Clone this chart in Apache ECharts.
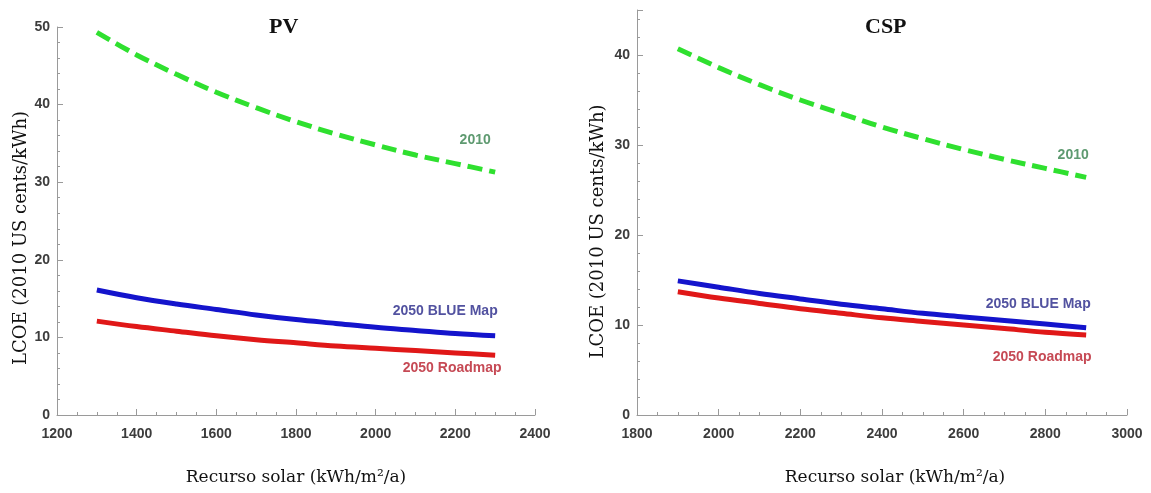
<!DOCTYPE html>
<html>
<head>
<meta charset="utf-8">
<script src="https://cdn.jsdelivr.net/npm/echarts@6/dist/echarts.min.js"></script>
<style>
html,body{margin:0;padding:0;background:#fff;}
#c{width:1151px;height:493px;}
</style>
</head>
<body>
<div id="c"></div>
<script>
// ---- data ----
const pvX = [1300, 1400, 1500, 1600, 1700, 1800, 1900, 2000, 2100, 2200, 2300];
const pv2010 = [49.3, 46.4, 43.9, 41.6, 39.6, 37.8, 36.2, 34.8, 33.5, 32.4, 31.3];
const pvBlue = [16.1, 15.1, 14.3, 13.6, 12.9, 12.3, 11.8, 11.3, 10.9, 10.5, 10.2];
const pvRoad = [12.1, 11.4, 10.8, 10.2, 9.7, 9.3, 8.9, 8.6, 8.3, 8.0, 7.7];

const cspX = [1900, 2000, 2100, 2200, 2300, 2400, 2500, 2600, 2700, 2800, 2900];
const csp2010 = [40.7, 38.6, 36.7, 35.0, 33.5, 32.0, 30.7, 29.5, 28.4, 27.4, 26.4];
const cspBlue = [14.9, 14.2, 13.5, 12.9, 12.3, 11.8, 11.3, 10.9, 10.5, 10.1, 9.7];
const cspRoad = [13.7, 13.0, 12.4, 11.8, 11.3, 10.8, 10.4, 10.0, 9.6, 9.2, 8.9];

const panelTitles = ['PV', 'CSP'];
const seriesNames = ['2010', '2050 BLUE Map', '2050 Roadmap'];
const xName = 'Recurso solar (kWh/m\u00B2/a)';
const yName = 'LCOE (2010 US cents/kWh)';
const pvXRange = [1200, 2400];
const cspXRange = [1800, 3000];
const pvYRange = [0, 50];
const cspYRange = [0, 45];

// ---- helpers ----
const pair = (xs, ys) => xs.map((x, i) => [x, ys[i]]);
const axisGray = '#9a9a9a';
const tickFont = {fontFamily: 'Liberation Sans', fontWeight: 'bold', fontSize: 14, color: '#3c3c3c'};

function xAxis(idx, range, namePad) {
  return {
    type: 'value', gridIndex: idx, min: range[0], max: range[1], interval: 200,
    axisLine: {show: true, onZero: false, lineStyle: {color: axisGray, width: 1}},
    axisTick: {show: true, inside: true, length: 6, lineStyle: {color: axisGray}},
    minorTick: {show: true, splitNumber: 4, length: 3, lineStyle: {color: axisGray}},
    splitLine: {show: false},
    axisLabel: Object.assign({margin: 12, formatter: v => String(v)}, tickFont),
    name: xName, nameLocation: 'middle', nameGap: 54,
    nameTextStyle: {fontFamily: 'DejaVu Serif', fontSize: 17, color: '#111', padding: namePad}
  };
}
function yAxis(idx, range, gap, namePad) {
  return {
    type: 'value', gridIndex: idx, min: range[0], max: range[1], interval: 10,
    axisLine: {show: true, lineStyle: {color: axisGray, width: 1}},
    axisTick: {show: true, inside: true, length: 6, lineStyle: {color: axisGray}},
    minorTick: {show: true, splitNumber: 5, length: 3, lineStyle: {color: axisGray}},
    splitLine: {show: false},
    axisLabel: Object.assign({margin: 7, showMaxLabel: range[1] % 10 === 0, formatter: v => String(v)}, tickFont),
    name: yName, nameLocation: 'middle', nameGap: gap, nameRotate: 90,
    nameTextStyle: {fontFamily: 'DejaVu Serif', fontSize: 18, color: '#111', padding: namePad}
  };
}
function lineSeries(idx, name, xs, ys, color, dashed, lblColor, lblOffset) {
  return {
    type: 'line', name: name, xAxisIndex: idx, yAxisIndex: idx,
    data: pair(xs, ys), smooth: 0.35, symbol: 'none',
    lineStyle: {color: color, width: 5, type: dashed ? [15, 7] : 'solid', cap: 'butt'},
    endLabel: {
      show: true, formatter: name, color: lblColor,
      fontFamily: 'Liberation Sans', fontWeight: 'bold', fontSize: 14,
      align: 'center', verticalAlign: 'middle', distance: 0, offset: lblOffset
    },
    silent: true, animation: false
  };
}

const chart = echarts.init(document.getElementById('c'), null, {renderer: 'canvas'});
chart.setOption({
  backgroundColor: '#ffffff',
  animation: false,
  title: [
    {text: panelTitles[0], left: 264, top: 11, textStyle: {fontFamily: 'Liberation Serif', fontWeight: 'bold', fontSize: 22, color: '#111'}},
    {text: panelTitles[1], left: 860, top: 11, textStyle: {fontFamily: 'Liberation Serif', fontWeight: 'bold', fontSize: 22, color: '#111'}}
  ],
  grid: [
    {left: 57, right: 1151 - 535, top: 27, bottom: 78, containLabel: false},
    {left: 637, right: 1151 - 1127, top: 10, bottom: 78, containLabel: false}
  ],
  xAxis: [xAxis(0, pvXRange, [0, 0, 0, 0]), xAxis(1, cspXRange, [0, 0, 0, 26])],
  yAxis: [yAxis(0, pvYRange, 26, [0, 34, 0, 0]), yAxis(1, cspYRange, 30, [0, 38, 0, 0])],
  series: [
    lineSeries(0, seriesNames[0], pvX, pv2010, '#2fe02f', true, '#5e9a70', [-20, -32]),
    lineSeries(0, seriesNames[1], pvX, pvBlue, '#1414cc', false, '#5252a0', [-50, -25]),
    lineSeries(0, seriesNames[2], pvX, pvRoad, '#e01818', false, '#c64a55', [-43, 13]),
    lineSeries(1, seriesNames[0], cspX, csp2010, '#2fe02f', true, '#5e9a70', [-13, -22]),
    lineSeries(1, seriesNames[1], cspX, cspBlue, '#1414cc', false, '#5252a0', [-48, -24]),
    lineSeries(1, seriesNames[2], cspX, cspRoad, '#e01818', false, '#c64a55', [-44, 22])
  ]
});
</script>
</body>
</html>
